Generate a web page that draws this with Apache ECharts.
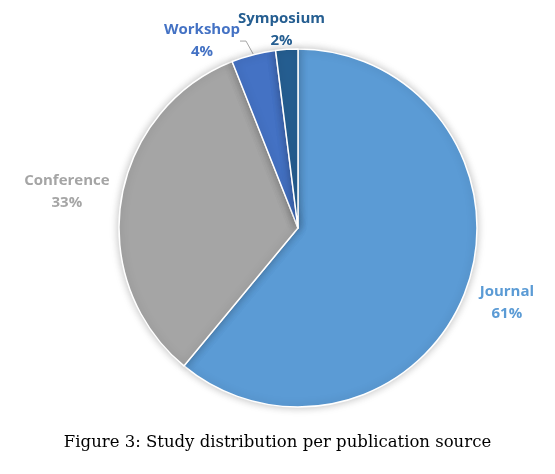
<!DOCTYPE html>
<html>
<head>
<meta charset="utf-8">
<script src="https://cdn.jsdelivr.net/npm/echarts@6/dist/echarts.min.js"></script>
<style>
  html, body { margin: 0; padding: 0; background: #fff; }
  #chart { width: 555px; height: 474px; }
</style>
</head>
<body>
<div id="chart"></div>
<script>
// publication sources and their share (%)
const sources = ['Journal', 'Conference', 'Workshop', 'Symposium']
const shares = [61, 33, 4, 2]
const sliceColors = ['#5b9bd5', '#a5a5a5', '#4472c4', '#255e91']
const caption = 'Figure 3: Study distribution per publication source'

const cx = 298
const cy = 228
const radius = 179
// how far each label sits from the centre, along its slice's middle
const labelDist = [222, 234, 193, 199]
const labelShiftX = [0, 0, -48, -4]

const total = shares.reduce((a, b) => a + b, 0)

function placeLabel(params) {
    const i = params.dataIndex
    let before = 0
    for (let k = 0; k < i; k++) before += shares[k]
    const mid = ((before + shares[i] / 2) / total) * Math.PI * 2
    return {
        x: cx + labelDist[i] * Math.sin(mid) + labelShiftX[i],
        y: cy - labelDist[i] * Math.cos(mid),
        align: 'center',
        verticalAlign: 'middle',
    }
}

const chart = echarts.init(document.getElementById('chart'))

chart.setOption({
    animation: false,
    title: {
        text: caption,
        left: 'center',
        top: 429,
        textStyle: {
            fontFamily: 'DejaVu Serif',
            fontWeight: 'normal',
            fontSize: 16.5,
            color: '#000',
        },
    },
    series: [
        {
            type: 'pie',
            center: [cx, cy],
            radius: [0, radius],
            startAngle: 90,
            clockwise: true,
            data: sources.map((name, i) => ({
                name,
                value: shares[i],
                itemStyle: { color: sliceColors[i] },
                label: { color: sliceColors[i] },
                labelLine: { show: name === 'Workshop' },
            })),
            itemStyle: {
                borderColor: '#fff',
                borderWidth: 1.5,
                shadowBlur: 8,
                shadowColor: 'rgba(0,0,0,0.25)',
            },
            label: {
                position: 'outside',
                formatter: '{b}\n{d}%',
                fontFamily: 'Open Sans',
                fontWeight: 'bold',
                fontSize: 15,
                lineHeight: 22,
                align: 'center',
            },
            labelLayout: placeLabel,
            labelLine: {
                length: 8,
                length2: 6,
                lineStyle: { color: '#a5a5a5', width: 1 },
            },
        },
    ],
})
</script>
</body>
</html>
